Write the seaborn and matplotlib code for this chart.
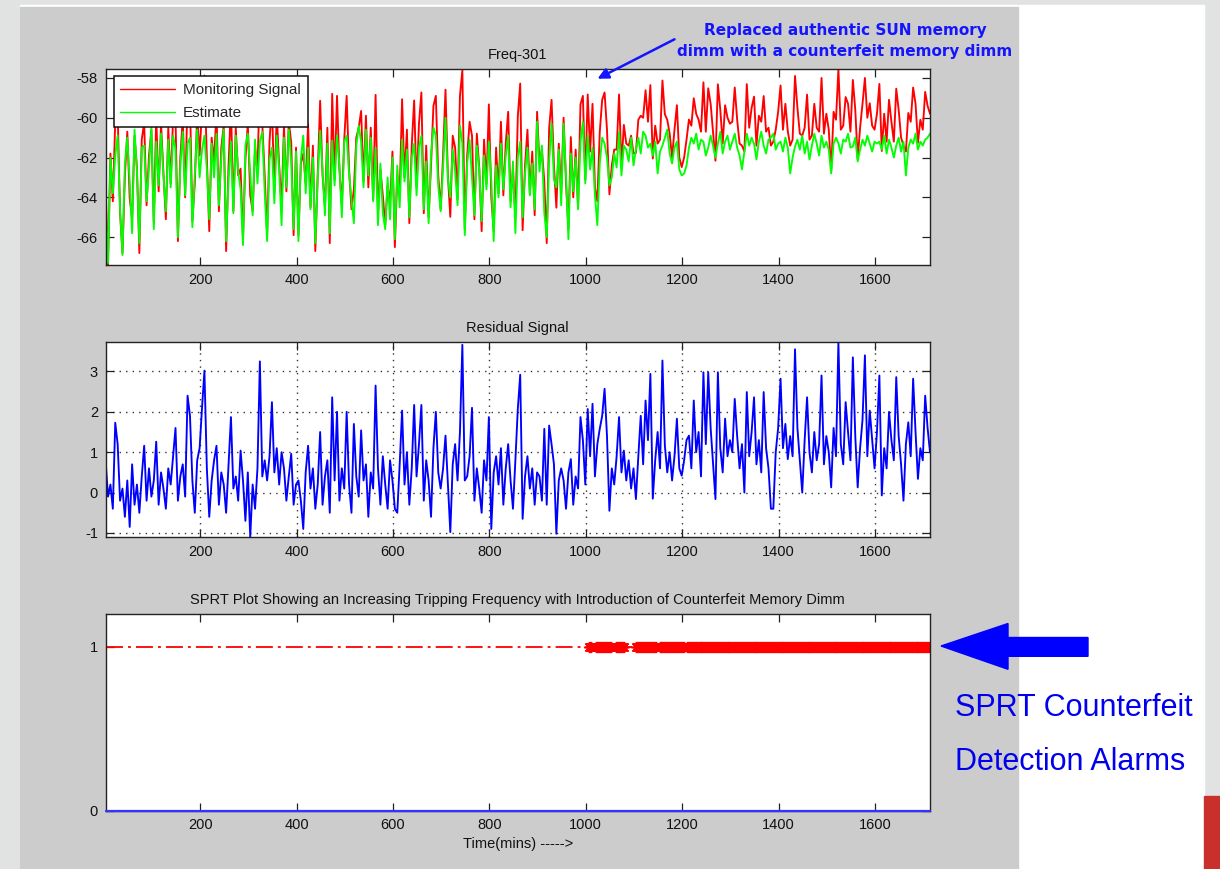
import numpy as np
import matplotlib
matplotlib.use("Agg")
import matplotlib.pyplot as plt
from matplotlib.patches import Rectangle, Polygon, FancyArrowPatch
import seaborn as sns

# ---------------------------------------------------------------------------
# Telemetry for frequency bin 301, sampled every 5 minutes (t = 4 ... 1714)
# Estimate (model prediction) and residual (signal - estimate) per 100-min block
# ---------------------------------------------------------------------------
T_START, T_STEP = 4, 5

est_0 = [-64.3, -67.3, -62.0, -63.8, -61.9, -60.9, -64.6, -66.9, -62.3, -61.0, -63.2, -65.8, -60.6, -62.7, -66.3, -61.5, -61.4, -64.2, -62.5, -60.5]
est_1 = [-65.6, -61.2, -63.4, -60.8, -62.9, -64.7, -61.1, -63.5, -60.9, -61.6, -66.0, -62.4, -60.7, -63.9, -61.3, -61.0, -65.5, -62.8, -60.6, -63.0]
est_2 = [-61.6, -60.9, -62.6, -65.1, -61.3, -63.0, -60.8, -64.4, -62.0, -60.6, -66.2, -63.1, -61.2, -64.8, -60.9, -62.7, -63.6, -66.4, -61.4, -60.8]
est_3 = [-62.8, -64.9, -61.1, -63.3, -61.2, -60.7, -63.7, -66.2, -62.1, -61.5, -64.3, -60.9, -62.6, -65.4, -61.0, -63.5, -60.6, -62.2, -65.6, -61.7]
est_4 = [-66.2, -62.1, -60.9, -63.8, -61.5, -64.6, -62.0, -66.3, -63.0, -60.65, -62.6, -64.9, -61.3, -65.8, -61.16, -63.4, -60.9, -62.4, -65.0, -61.2]
est_5 = [-60.9, -62.8, -64.1, -65.3, -61.4, -60.4, -61.2, -63.5, -60.6, -62.9, -61.0, -64.2, -61.5, -65.4, -62.3, -64.8, -65.6, -63.0, -65.1, -62.0]
est_6 = [-66.1, -62.4, -64.5, -61.1, -63.2, -61.6, -65.0, -62.0, -61.3, -63.9, -61.5, -60.9, -64.6, -62.2, -65.3, -61.8, -60.5, -60.9, -63.4, -64.7]
est_7 = [-62.5, -60.0, -63.1, -64.0, -61.6, -62.7, -64.4, -60.4, -61.27, -65.9, -62.3, -61.1, -63.0, -64.9, -61.4, -62.6, -65.2, -61.9, -63.6, -61.2]
est_8 = [-63.1, -66.2, -62.4, -64.0, -61.3, -63.6, -61.9, -60.9, -64.5, -62.2, -65.8, -62.0, -61.2, -65.0, -62.8, -61.5, -63.9, -62.3, -64.6, -60.2]
est_9 = [-62.7, -61.4, -64.8, -66.0, -62.2, -60.3, -63.1, -63.5, -61.6, -64.4, -60.3, -62.9, -66.1, -61.8, -63.7, -62.0, -64.6, -61.2, -60.2, -63.3]
est_10 = [-60.9, -62.6, -61.5, -63.9, -65.4, -62.3, -61.0, -61.3, -62.0, -63.4, -63.0, -61.8, -62.5, -60.7, -62.9, -61.4, -61.6, -62.2, -61.0, -62.4]
est_11 = [-61.6, -61.0, -61.8, -60.7, -60.9, -61.5, -61.3, -61.9, -61.2, -62.8, -61.7, -61.4, -61.0, -60.6, -61.8, -62.3, -61.5, -61.2, -62.6, -62.9]
est_12 = [-62.8, -62.4, -61.5, -61.0, -61.3, -60.8, -61.6, -61.1, -61.2, -61.9, -61.5, -60.9, -61.4, -62.0, -61.3, -60.7, -61.8, -61.2, -60.9, -61.6]
est_13 = [-61.2, -60.8, -61.5, -61.9, -62.6, -61.7, -60.8, -61.4, -61.0, -61.3, -62.1, -61.2, -60.7, -61.4, -61.8, -61.1, -61.0, -60.8, -61.6, -61.3]
est_14 = [-61.2, -61.7, -61.0, -61.5, -62.8, -62.0, -61.45, -61.1, -61.6, -60.9, -61.8, -61.2, -62.1, -61.4, -60.8, -61.3, -61.9, -60.9, -61.5, -61.2]
est_15 = [-61.6, -62.8, -61.3, -61.0, -61.28, -61.8, -61.1, -61.2, -60.8, -61.5, -61.45, -61.0, -62.2, -61.6, -61.1, -61.4, -60.9, -61.3, -61.7, -61.2]
est_16 = [-61.3, -61.2, -61.6, -60.9, -61.8, -61.1, -61.5, -62.0, -61.4, -61.0, -61.7, -61.2, -62.9, -61.5, -61.1, -61.3, -60.8, -61.6, -61.2, -61.4]
est_17 = [-61.1, -61.0, -60.8]

res_0 = [0.8, -0.1, 0.2, -0.4, 1.73, 1.2, -0.2, 0.1, -0.6, 0.3, -0.85, 0.7, -0.3, 0.2, -0.5, 0.4, 1.16, -0.2, 0.6, -0.1]
res_1 = [0.3, 1.26, -0.3, 0.5, 0.1, -0.4, 0.6, 0.2, 0.9, 1.6, -0.2, 0.4, 0.7, -0.1, 2.4, 1.9, 0.3, -0.5, 0.8, 1.1]
res_2 = [2.1, 3.02, 0.6, -0.6, 0.3, 0.8, 1.16, -0.3, 0.5, 0.2, -0.5, 0.7, 1.87, 0.1, 0.4, -0.2, 1.04, 0.3, -0.7, 0.5]
res_3 = [-1.1, 0.2, -0.4, 0.6, 3.25, 0.4, 0.8, 0.3, 0.9, 2.24, 0.5, 1.1, 0.2, 1.0, 0.6, -0.2, 0.4, 0.96, -0.3, 0.2]
res_4 = [0.3, -0.2, -0.9, 0.5, 1.16, 0.1, 0.6, -0.4, 0.2, 1.5, -0.3, 0.4, 0.8, -0.5, 2.36, 0.3, 2.0, -0.2, 0.6, 0.1]
res_5 = [2.0, 0.2, -0.5, 1.7, 0.4, -0.1, 1.54, 0.3, 0.7, -0.6, 0.5, 0.1, 2.65, 0.6, -0.3, 0.9, 0.2, -0.4, 0.8, 0.3]
res_6 = [-0.4, -0.5, 0.7, 2.03, 0.2, 1.0, -0.3, 0.6, 2.17, 0.4, 1.2, 2.17, -0.2, 0.8, 0.3, -0.6, 1.1, 2.0, 0.5, 0.1]
res_7 = [0.6, 1.41, 0.2, -0.98, 0.7, 1.2, 0.3, 1.5, 3.66, 0.3, 0.4, 0.9, 2.1, -0.2, 0.6, 0.1, -0.5, 0.8, 0.3, 1.87]
res_8 = [-0.9, 0.5, 0.9, 0.2, 1.1, -0.3, 0.6, 1.2, 0.3, -0.4, 0.8, 2.07, 2.92, -0.65, 0.4, 0.9, 0.1, 0.6, -0.3, 0.5]
res_9 = [0.4, -0.2, 1.58, -0.3, 1.66, 1.2, 0.7, -1.02, 0.3, 0.6, 0.3, -0.4, 0.5, 0.83, -0.3, 0.4, 0.1, 1.87, 1.3, 0.2]
res_10 = [2.07, 0.9, 2.2, 0.4, 1.2, 1.58, 1.9, 2.57, 1.4, -0.45, 0.6, 0.2, 0.9, 1.87, 0.5, 1.04, 0.3, 0.8, 0.1, 0.6]
res_11 = [-0.16, 0.9, 1.9, 0.7, 2.28, 1.3, 2.94, -0.15, 0.8, 1.5, 0.6, 3.27, 1.17, 0.5, 1.0, 0.3, 0.9, 1.83, 0.6, 0.42]
res_12 = [0.8, 1.3, 1.41, 0.6, 2.28, 1.0, 1.5, 0.4, 2.98, 1.2, 2.98, 1.6, 0.7, -0.16, 2.98, 1.1, 0.5, 1.83, 0.9, 1.3]
res_13 = [1.0, 2.32, 1.4, 0.6, 1.2, 0.0, 2.49, 0.9, 1.5, 2.36, 0.7, 1.3, 0.5, 2.49, 1.1, 0.6, -0.4, -0.4, 1.0, 1.6]
res_14 = [2.82, 1.1, 1.7, 0.83, 1.4, 0.9, 3.55, 1.6, 0.8, 0.0, 1.3, 2.36, 1.0, 0.5, 1.5, 0.8, 1.2, 2.9, 0.7, 1.4]
res_15 = [1.0, 0.13, 1.6, 0.9, 3.73, 1.2, 0.7, 2.24, 1.5, 0.8, 3.35, 1.4, 0.13, 1.1, 1.8, 3.4, 0.9, 2.03, 1.3, 0.6]
res_16 = [1.5, 2.9, -0.07, 1.1, 0.6, 2.0, 1.3, 0.8, 2.86, 1.4, 0.7, -0.2, 1.2, 1.74, 0.9, 2.82, 1.5, 0.34, 1.1, 0.8]
res_17 = [2.4, 1.6, 1.0]

estimate = np.array(est_0 + est_1 + est_2 + est_3 + est_4 + est_5 + est_6 + est_7 + est_8
                    + est_9 + est_10 + est_11 + est_12 + est_13 + est_14 + est_15 + est_16 + est_17)
residual = np.array(res_0 + res_1 + res_2 + res_3 + res_4 + res_5 + res_6 + res_7 + res_8
                    + res_9 + res_10 + res_11 + res_12 + res_13 + res_14 + res_15 + res_16 + res_17)
minutes = T_START + T_STEP * np.arange(len(estimate))
signal = estimate + residual

# SPRT alarm episodes (start minute, end minute); the alarm level is 1, normal state 0
alarm_windows = [(1007, 1012), (1022, 1052), (1062, 1080), (1105, 1146), (1153, 1203), (1210, 1714)]
alarm_level = 1
normal_level = 0
alarm_minutes = np.concatenate([np.arange(a, b + 1, 2) for a, b in alarm_windows])

xticks = [200, 400, 600, 800, 1000, 1200, 1400, 1600]

# ---------------------------------------------------------------------------
sns.set_theme(style="ticks")
plt.rcParams["font.family"] = ["Liberation Sans", "DejaVu Sans"]
plt.rcParams["axes.unicode_minus"] = False

W, H = 1220, 869
fig = plt.figure(figsize=(W / 100, H / 100), dpi=100, facecolor="#e1e3e2")


def fx(px):
    return px / W


def fy(py):
    return 1 - py / H


# slide backdrop: white content area, grey figure panel, red corner tab
fig.patches.append(Rectangle((fx(20), 0), fx(1184), fy(4.5), transform=fig.transFigure,
                             color="white", zorder=-3))
fig.patches.append(Rectangle((fx(20), 0), fx(998), fy(6.5), transform=fig.transFigure,
                             color="#cccccc", zorder=-2))
fig.patches.append(Rectangle((fx(1204), 0), fx(16), fy(796), transform=fig.transFigure,
                             color="#c9302c", zorder=-2))

LEFT, RIGHT = 105.6, 930.0
ax1 = fig.add_axes([fx(LEFT), fy(265), fx(RIGHT - LEFT), (265 - 69) / H])
ax2 = fig.add_axes([fx(LEFT), fy(537), fx(RIGHT - LEFT), (537 - 342) / H])
ax3 = fig.add_axes([fx(LEFT), fy(810.7), fx(RIGHT - LEFT), (810.7 - 614) / H])

for ax in (ax1, ax2, ax3):
    ax.set_facecolor("white")
    for s in ax.spines.values():
        s.set_color("#222222")
        s.set_linewidth(1.0)
        s.set_visible(True)
    ax.tick_params(direction="in", top=True, right=True, length=6, width=0.9,
                   labelsize=10.5, pad=5.5, colors="#222222", labelcolor="#111111")
    ax.set_xlim(minutes[0], minutes[-1])
    ax.set_xticks(xticks)

# --- Freq-301: monitoring signal and its estimate
sns.lineplot(x=minutes, y=signal, color="#ff0000", linewidth=1.35, ax=ax1,
             label="Monitoring Signal", estimator=None, sort=False)
sns.lineplot(x=minutes, y=estimate, color="#00ff00", linewidth=1.35, ax=ax1,
             label="Estimate", estimator=None, sort=False)
ax1.set_ylim(min(signal.min(), estimate.min()), max(signal.max(), estimate.max()))
ax1.set_yticks([-66, -64, -62, -60, -58])
ax1.set_title("Freq-301", fontsize=10.5, pad=7.5, color="#111111")
leg = ax1.legend(loc="upper left", bbox_to_anchor=(0.0096, 0.964), borderaxespad=0,
                 fancybox=False, edgecolor="#111111", framealpha=1, fontsize=11,
                 handlelength=3.6, handletextpad=0.5, labelspacing=0.6, borderpad=0.45)
leg.get_frame().set_linewidth(1.1)
for h in leg.get_lines():
    h.set_linewidth(1.0)

# --- residual
sns.lineplot(x=minutes, y=residual, color="#0000ff", linewidth=1.35, ax=ax2,
             estimator=None, sort=False)
ax2.set_ylim(residual.min(), residual.max())
ax2.set_yticks([-1, 0, 1, 2, 3])
ax2.grid(True, color="#333333", linewidth=1.0, linestyle=(0, (1, 3.7)))
ax2.set_axisbelow(True)
ax2.set_title("Residual Signal", fontsize=10.5, pad=7.5, color="#111111")

# --- SPRT alarms
sns.lineplot(x=minutes, y=np.full(len(minutes), alarm_level), color="#ff0000",
             linewidth=1.3, linestyle=(0, (9.4, 2.8, 1.6, 2.8)), ax=ax3,
             estimator=None, sort=False)
ax3.plot(alarm_minutes, np.full(len(alarm_minutes), alarm_level), linestyle="none",
         marker=(8, 2, 0), markersize=8, markeredgewidth=1.0, color="#ff0000")
sns.lineplot(x=minutes, y=np.full(len(minutes), normal_level), color="#3333ff",
             linewidth=1.6, ax=ax3, estimator=None, sort=False)
for ln in ax3.lines[-1:]:
    ln.set_clip_on(False)
    ln.set_zorder(5)
ax3.set_ylim(0, 1.2)
ax3.set_yticks([0, 1])
ax3.set_title("SPRT Plot Showing an Increasing Tripping Frequency with Introduction of "
              "Counterfeit Memory Dimm", fontsize=10.5, pad=7.5, color="#111111")
ax3.set_xlabel("Time(mins) ----->", fontsize=10.5, labelpad=3, color="#111111")

# --- callouts
fig.text(fx(845), fy(35), "Replaced authentic SUN memory", ha="center", va="baseline",
         color="#1414ff", fontweight="bold", fontsize=11, family="DejaVu Sans")
fig.text(fx(845), fy(56), "dimm with a counterfeit memory dimm", ha="center", va="baseline",
         color="#1414ff", fontweight="bold", fontsize=11, family="DejaVu Sans")
fig.patches.append(FancyArrowPatch((fx(677), fy(38)), (fx(595), fy(80)),
                                   transform=fig.transFigure, arrowstyle="-|>",
                                   mutation_scale=16, linewidth=1.8, color="#1414ff"))

arrow_px = [(941, 646), (1008, 623.5), (1008, 637.5), (1088, 637.5),
            (1088, 656.3), (1008, 656.3), (1008, 669.3)]
fig.patches.append(Polygon([(fx(x), fy(y)) for x, y in arrow_px], closed=True,
                           transform=fig.transFigure, color="#0000ff"))
fig.text(fx(955), fy(716.5), "SPRT Counterfeit", ha="left", va="baseline", color="#0000ee",
         fontsize=22, family="Liberation Sans")
fig.text(fx(955), fy(769.5), "Detection Alarms", ha="left", va="baseline", color="#0000ee",
         fontsize=22, family="Liberation Sans")

fig.savefig("out.png", dpi=100, facecolor=fig.get_facecolor())
